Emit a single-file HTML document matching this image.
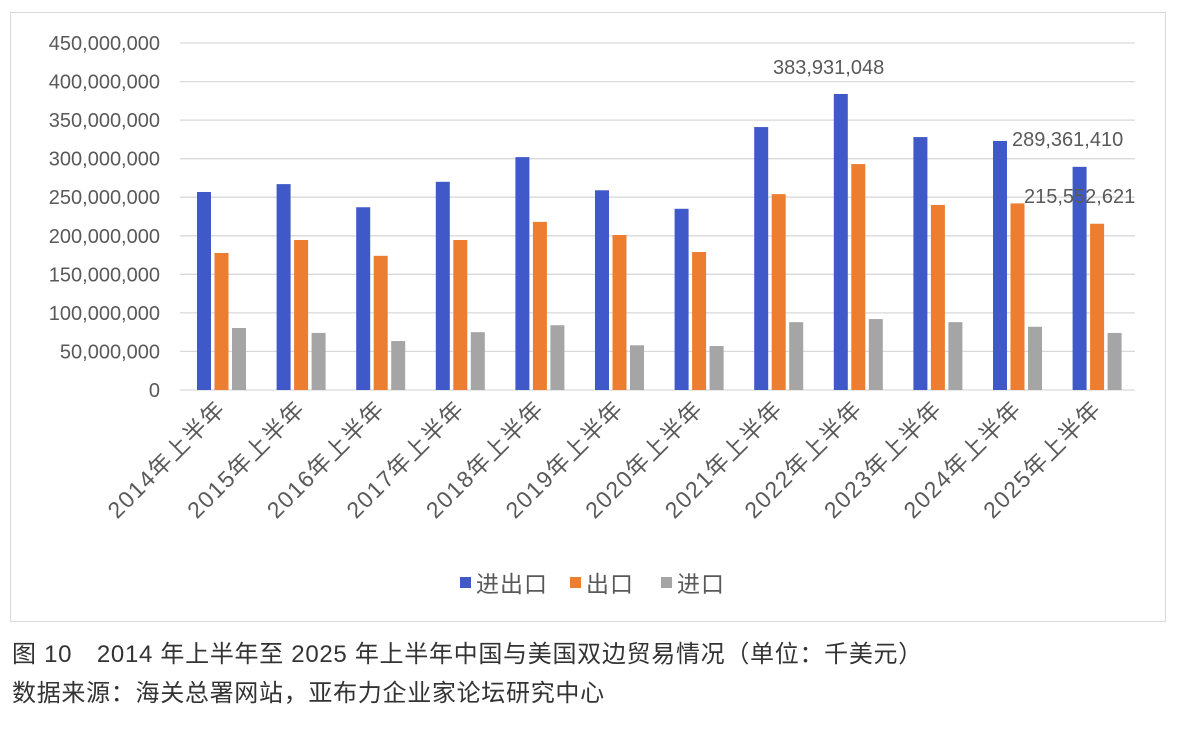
<!DOCTYPE html>
<html><head><meta charset="utf-8"><style>
body{margin:0;background:#fff;width:1179px;height:735px;overflow:hidden;font-family:"Liberation Sans","Noto Sans CJK SC",sans-serif}
</style></head><body>
<svg width="1179" height="735" xmlns="http://www.w3.org/2000/svg" style="position:absolute;left:0;top:0">
<rect x="10.5" y="12.5" width="1155" height="609" fill="#fff" stroke="#d9d9d9"/>
<g stroke="#d9d9d9" stroke-width="1.3">
<line x1="180" x2="1135" y1="43" y2="43"/><line x1="180" x2="1135" y1="81.6" y2="81.6"/><line x1="180" x2="1135" y1="120.1" y2="120.1"/><line x1="180" x2="1135" y1="158.7" y2="158.7"/><line x1="180" x2="1135" y1="197.2" y2="197.2"/><line x1="180" x2="1135" y1="235.8" y2="235.8"/><line x1="180" x2="1135" y1="274.3" y2="274.3"/><line x1="180" x2="1135" y1="312.9" y2="312.9"/><line x1="180" x2="1135" y1="351.4" y2="351.4"/><line x1="180" x2="1135" y1="390" y2="390"/>
</g>
<g font-size="20" fill="#595959" text-anchor="end">
<text x="160" y="50">450,000,000</text><text x="160" y="88.6">400,000,000</text><text x="160" y="127.1">350,000,000</text><text x="160" y="165.7">300,000,000</text><text x="160" y="204.2">250,000,000</text><text x="160" y="242.8">200,000,000</text><text x="160" y="281.3">150,000,000</text><text x="160" y="319.9">100,000,000</text><text x="160" y="358.4">50,000,000</text><text x="160" y="397">0</text>
</g>
<g id="bars"></g>
<g id="labels" font-size="23" letter-spacing="1.5" fill="#595959" text-anchor="end"></g>
<g font-size="20" fill="#595959">
<text x="773" y="74">383,931,048</text>
<text x="1012" y="146">289,361,410</text>
<text x="1024" y="203">215,552,621</text>
</g>
<g font-size="23" fill="#595959" letter-spacing="1">
<rect x="460" y="577" width="11" height="11" fill="#4059c8"/><text x="476" y="592">进出口</text>
<rect x="570" y="577" width="11" height="11" fill="#ed7d31"/><text x="586" y="592">出口</text>
<rect x="661" y="577" width="11" height="11" fill="#a5a5a5"/><text x="677" y="592">进口</text>
</g>
<g font-size="24" fill="#333" letter-spacing="0.7">
<text x="12" y="662">图 10　2014 年上半年至 2025 年上半年中国与美国双边贸易情况（单位：千美元）</text>
<text x="12" y="701">数据来源：海关总署网站，亚布力企业家论坛研究中心</text>
</g>
</svg>
<script>
var d=[[256.8,177.7,80.4],[267,194.5,74],[237,174,63.5],[270,194.5,75],[302,218,84],[259,201,58],[235,179,57],[341,254,88],[383.9,293,92],[328,240,88],[323,242,82],[289.4,215.6,74]];
var c=["#4059c8","#ed7d31","#a5a5a5"],ns="http://www.w3.org/2000/svg";
var b=document.getElementById("bars"),l=document.getElementById("labels");
d.forEach(function(v,i){var x0=197+i*79.6;v.forEach(function(val,j){var h=val/450*347;var r=document.createElementNS(ns,"rect");r.setAttribute("x",x0+j*17.5);r.setAttribute("y",390-h);r.setAttribute("width",14);r.setAttribute("height",h);r.setAttribute("fill",c[j]);b.appendChild(r);});
var t=document.createElementNS(ns,"text");var cx=x0+30;t.setAttribute("transform","translate("+(cx)+",410) rotate(-45)");t.textContent=(2014+i)+"年上半年";l.appendChild(t);});
</script>
</body></html>
